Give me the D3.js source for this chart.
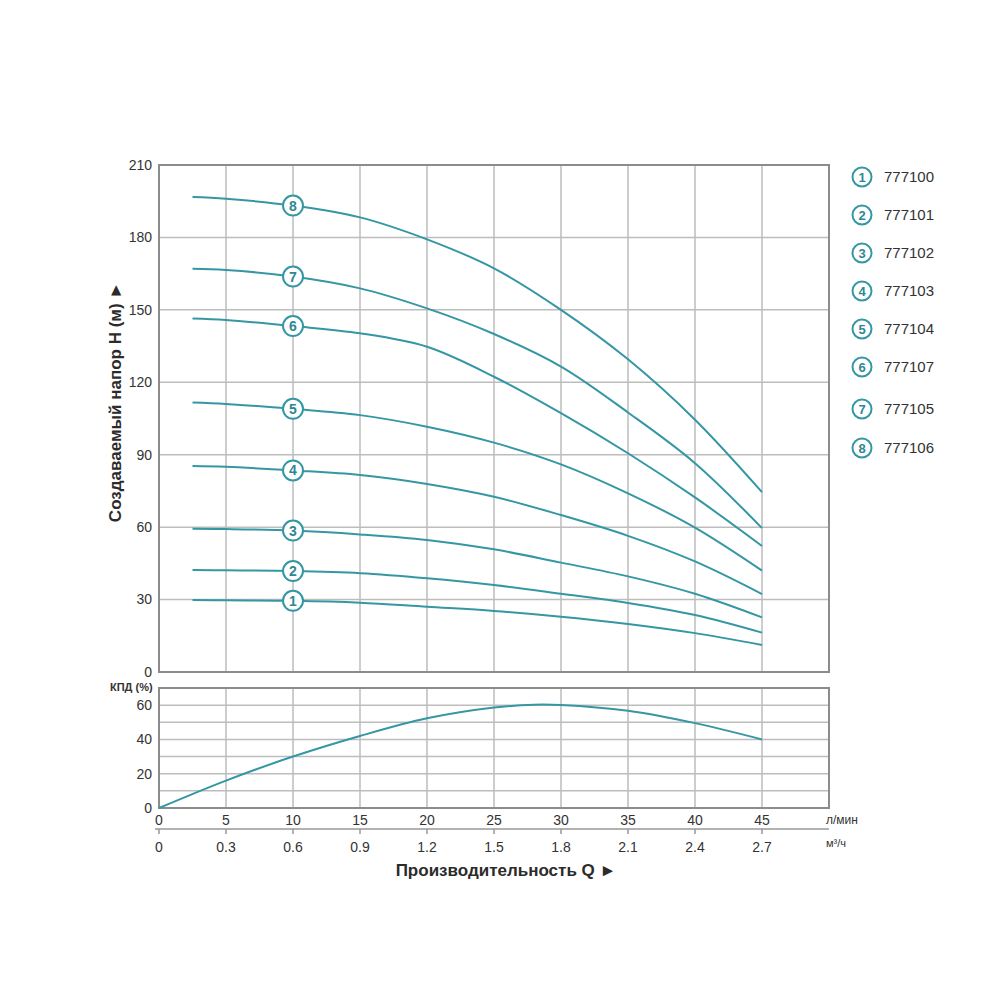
<!DOCTYPE html>
<html>
<head>
<meta charset="utf-8">
<script src="https://cdn.jsdelivr.net/npm/d3@7/dist/d3.min.js"></script>
<style>
  body { margin: 0; background: #fff; }
  text { font-family: "Liberation Sans", Arial, sans-serif; fill: #333; }
  .tick-label { font-size: 14px; }
  .title { font-size: 17px; font-weight: bold; fill: #2b2b2b; }
</style>
</head>
<body>
<div id="chart"></div>
<script>
// flow in l/min where the curves were read
const flow = [2.5, 5, 10, 15, 20, 25, 30, 35, 40, 45];

// head curves, metres
const head1 = [29.8, 29.7, 29.5, 28.7, 27.0, 25.3, 22.9, 19.9, 16.1, 11.2];
const head2 = [42.2, 42.1, 41.8, 40.9, 38.8, 36.0, 32.4, 28.6, 23.6, 16.3];
const head3 = [59.3, 59.2, 58.6, 57.0, 54.7, 50.8, 45.3, 39.6, 32.4, 22.6];
const head4 = [85.3, 85.0, 83.5, 81.6, 77.9, 72.6, 65.0, 56.4, 45.8, 32.3];
const head5 = [111.6, 111.0, 109.0, 106.4, 101.6, 95.0, 86.0, 74.0, 59.8, 42.0];
const head6 = [146.4, 145.8, 143.3, 140.3, 134.7, 122.3, 107.2, 90.6, 72.3, 52.2];
const head7 = [167.0, 166.5, 163.8, 158.9, 150.6, 140.0, 126.5, 107.5, 86.5, 59.6];
const head8 = [196.7, 196.0, 193.2, 188.3, 179.2, 167.2, 150.0, 129.5, 104.5, 74.5];
const curveNumbers = [1, 2, 3, 4, 5, 6, 7, 8];

// efficiency curve
const effFlow = [0, 5, 10, 15, 20, 25, 28, 30, 35, 40, 45];
const effValues = [0, 16, 30, 42, 52.3, 58.6, 60.3, 60.1, 56.7, 49.5, 40];

// legend
const legendNumbers = [1, 2, 3, 4, 5, 6, 7, 8];
const legendCodes = ["777100", "777101", "777102", "777103", "777104", "777107", "777105", "777106"];

// axis ticks
const flowTicks = [0, 5, 10, 15, 20, 25, 30, 35, 40, 45];
const m3Labels = ["0", "0.3", "0.6", "0.9", "1.2", "1.5", "1.8", "2.1", "2.4", "2.7"];
const headTicks = [0, 30, 60, 90, 120, 150, 180, 210];
const effTicks = [0, 20, 40, 60];
const effGrid = [10, 20, 30, 40, 50, 60];

const teal = "#3597a4";
const gridColor = "#bdbdbd";
const frameColor = "#8c8c8c";

const svg = d3.select("#chart").append("svg")
  .attr("width", 1000)
  .attr("height", 1000);

const x = d3.scaleLinear().domain([0, 50]).range([159, 829]);
const yHead = d3.scaleLinear().domain([0, 210]).range([672, 165]);
const yEff = d3.scaleLinear().domain([0, 70]).range([808, 688]);

// ---- top panel grid
const headPanel = svg.append("g");
headPanel.selectAll("line.v")
  .data(flowTicks.slice(1))
  .enter().append("line")
  .attr("x1", d => x(d)).attr("x2", d => x(d))
  .attr("y1", yHead(210)).attr("y2", yHead(0))
  .attr("stroke", gridColor).attr("stroke-width", 1.5);
headPanel.selectAll("line.h")
  .data(headTicks.slice(1, -1))
  .enter().append("line")
  .attr("x1", x(0)).attr("x2", x(50))
  .attr("y1", d => yHead(d)).attr("y2", d => yHead(d))
  .attr("stroke", gridColor).attr("stroke-width", 1.5);
headPanel.append("rect")
  .attr("x", x(0)).attr("y", yHead(210))
  .attr("width", x(50) - x(0)).attr("height", yHead(0) - yHead(210))
  .attr("fill", "none").attr("stroke", frameColor).attr("stroke-width", 2);

headPanel.selectAll("text.yt")
  .data(headTicks)
  .enter().append("text")
  .attr("class", "tick-label")
  .attr("x", 152)
  .attr("y", d => yHead(d))
  .attr("dy", "0.35em")
  .attr("text-anchor", "end")
  .text(d => d);

// ---- head curves
const heads = [head1, head2, head3, head4, head5, head6, head7, head8];
const line = d3.line()
  .x(d => x(d[0]))
  .y(d => yHead(d[1]))
  .curve(d3.curveCatmullRom.alpha(0.5));

heads.forEach((h, i) => {
  const pts = flow.map((q, j) => [q, h[j]]);
  headPanel.append("path")
    .attr("d", line(pts))
    .attr("fill", "none")
    .attr("stroke", teal)
    .attr("stroke-width", 2);
});

// numbered markers at 10 l/min
const markIdx = flow.indexOf(10);
heads.forEach((h, i) => {
  const g = headPanel.append("g")
    .attr("transform", "translate(" + x(10) + "," + yHead(h[markIdx]) + ")");
  g.append("circle")
    .attr("r", 10)
    .attr("fill", "#fff")
    .attr("stroke", teal)
    .attr("stroke-width", 2);
  g.append("text")
    .attr("text-anchor", "middle")
    .attr("dy", "0.36em")
    .style("font-size", "14px")
    .style("font-weight", "bold")
    .style("fill", "#2f8793")
    .text(curveNumbers[i]);
});

// y title
svg.append("text")
  .attr("class", "title")
  .attr("transform", "translate(121,402) rotate(-90)")
  .attr("text-anchor", "middle")
  .text("Создаваемый напор H (м) \u25BA");

// ---- bottom panel (efficiency)
const effPanel = svg.append("g");
effPanel.selectAll("line.v")
  .data(flowTicks.slice(1))
  .enter().append("line")
  .attr("x1", d => x(d)).attr("x2", d => x(d))
  .attr("y1", yEff(70)).attr("y2", yEff(0))
  .attr("stroke", gridColor).attr("stroke-width", 1.5);
effPanel.selectAll("line.h")
  .data(effGrid)
  .enter().append("line")
  .attr("x1", x(0)).attr("x2", x(50))
  .attr("y1", d => yEff(d)).attr("y2", d => yEff(d))
  .attr("stroke", gridColor).attr("stroke-width", 1.5);
effPanel.append("rect")
  .attr("x", x(0)).attr("y", yEff(70))
  .attr("width", x(50) - x(0)).attr("height", yEff(0) - yEff(70))
  .attr("fill", "none").attr("stroke", frameColor).attr("stroke-width", 2);

effPanel.selectAll("text.yt")
  .data(effTicks)
  .enter().append("text")
  .attr("class", "tick-label")
  .attr("x", 152)
  .attr("y", d => yEff(d))
  .attr("dy", "0.35em")
  .attr("text-anchor", "end")
  .text(d => d);

effPanel.append("text")
  .attr("x", 110)
  .attr("y", 691)
  .style("font-size", "11px")
  .style("font-weight", "bold")
  .text("КПД (%)");

const effLine = d3.line()
  .x(d => x(d[0]))
  .y(d => yEff(d[1]))
  .curve(d3.curveCatmullRom.alpha(0.5));
effPanel.append("path")
  .attr("d", effLine(effFlow.map((q, j) => [q, effValues[j]])))
  .attr("fill", "none")
  .attr("stroke", teal)
  .attr("stroke-width", 2);

// ---- x axes: l/min and m3/h
const axisG = svg.append("g");
axisG.selectAll("text.q")
  .data(flowTicks)
  .enter().append("text")
  .attr("class", "tick-label")
  .attr("x", d => x(d))
  .attr("y", 820)
  .attr("dy", "0.35em")
  .attr("text-anchor", "middle")
  .text(d => d);

axisG.append("line")
  .attr("x1", 155).attr("x2", x(50))
  .attr("y1", 829).attr("y2", 829)
  .attr("stroke", "#999").attr("stroke-width", 1.5);
axisG.selectAll("line.tk")
  .data(flowTicks)
  .enter().append("line")
  .attr("x1", d => x(d)).attr("x2", d => x(d))
  .attr("y1", 829).attr("y2", 834)
  .attr("stroke", "#999").attr("stroke-width", 1.5);

axisG.selectAll("text.m3")
  .data(flowTicks)
  .enter().append("text")
  .attr("class", "tick-label")
  .attr("x", d => x(d))
  .attr("y", 847)
  .attr("dy", "0.35em")
  .attr("text-anchor", "middle")
  .text((d, i) => m3Labels[i]);

axisG.append("text")
  .attr("x", 826).attr("y", 820).attr("dy", "0.35em")
  .style("font-size", "12px")
  .text("л/мин");
axisG.append("text")
  .attr("x", 826).attr("y", 843).attr("dy", "0.35em")
  .style("font-size", "11px")
  .text("м³/ч");

svg.append("text")
  .attr("class", "title")
  .attr("x", 506).attr("y", 876)
  .attr("text-anchor", "middle")
  .text("Производительность Q \u25BA");

// ---- legend
const legendY = [177, 215, 253, 291, 329, 367, 409, 448];
const legend = svg.append("g");
legendNumbers.forEach((n, i) => {
  const g = legend.append("g")
    .attr("transform", "translate(862," + legendY[i] + ")");
  g.append("circle")
    .attr("r", 9.5)
    .attr("fill", "#fff")
    .attr("stroke", teal)
    .attr("stroke-width", 2);
  g.append("text")
    .attr("text-anchor", "middle")
    .attr("dy", "0.36em")
    .style("font-size", "13px")
    .style("font-weight", "bold")
    .style("fill", "#2f8793")
    .text(n);
  g.append("text")
    .attr("x", 22)
    .attr("dy", "0.36em")
    .style("font-size", "15px")
    .text(legendCodes[i]);
});
</script>
</body>
</html>
